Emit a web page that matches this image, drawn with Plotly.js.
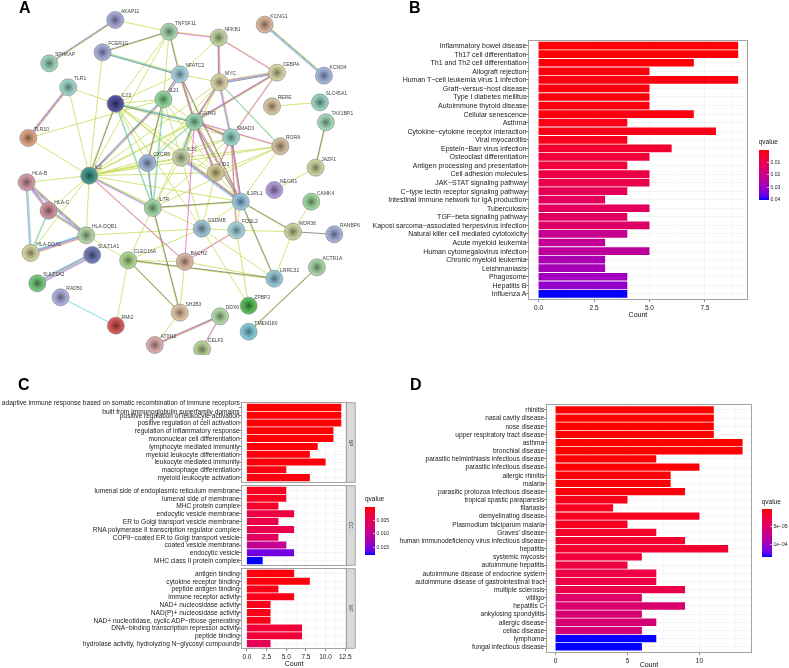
<!DOCTYPE html>
<html><head><meta charset="utf-8">
<script src="https://cdn.plot.ly/plotly-3.0.1.min.js"></script>
<style>html,body{margin:0;padding:0;background:#fff}#c{width:789px;height:668px;filter:blur(0.2px)}
#c .bars .point path{shape-rendering:geometricPrecision !important}</style>
</head><body><div id="c"></div>
<script>
// ---------- Panel B data ----------
const bCats=["Inflammatory bowel disease","Th17 cell differentiation","Th1 and Th2 cell differentiation","Allograft rejection","Human T−cell leukemia virus 1 infection","Graft−versus−host disease","Type I diabetes mellitus","Autoimmune thyroid disease","Cellular senescence","Asthma","Cytokine−cytokine receptor interaction","Viral myocarditis","Epstein−Barr virus infection","Osteoclast differentiation","Antigen processing and presentation","Cell adhesion molecules","JAK−STAT signaling pathway","C−type lectin receptor signaling pathway","Intestinal immune network for IgA production","Tuberculosis","TGF−beta signaling pathway","Kaposi sarcoma−associated herpesvirus infection","Natural killer cell mediated cytotoxicity","Acute myeloid leukemia","Human cytomegalovirus infection","Chronic myeloid leukemia","Leishmaniasis","Phagosome","Hepatitis B","Influenza A"];
const bCount=[9,9,7,5,9,5,5,5,7,4,8,4,6,5,4,5,5,4,3,5,4,5,4,3,5,3,3,4,4,4];
const bQ=[0.0002,0.0002,0.0005,0.0008,0.001,0.001,0.001,0.001,0.001,0.0015,0.0015,0.002,0.005,0.006,0.006,0.008,0.009,0.011,0.012,0.012,0.013,0.014,0.021,0.022,0.023,0.027,0.028,0.029,0.031,0.040];
// ---------- Panel C data ----------
const cBP=["adaptive immune response based on somatic recombination of immune receptors<br>built from immunoglobulin superfamily domains","positive regulation of leukocyte activation","positive regulation of cell activation","regulation of inflammatory response","mononuclear cell differentiation","lymphocyte mediated immunity","myeloid leukocyte differentiation","leukocyte mediated immunity","macrophage differentiation","myeloid leukocyte activation"];
const cBPCount=[12,12,12,11,11,9,8,10,5,8];
const cBPQ=[0.0001,0.0001,0.0001,0.0002,0.0002,0.0003,0.0004,0.0004,0.0006,0.0006];
const cCC=["lumenal side of endoplasmic reticulum membrane","lumenal side of membrane","MHC protein complex","endocytic vesicle membrane","ER to Golgi transport vesicle membrane","RNA polymerase II transcription regulator complex","COPII−coated ER to Golgi transport vesicle","coated vesicle membrane","endocytic vesicle","MHC class II protein complex"];
const cCCCount=[5,5,4,6,4,6,4,5,6,2];
const cCCQ=[0.0012,0.0012,0.0018,0.0035,0.0038,0.0042,0.0055,0.0095,0.0155,0.0177];
const cMF=["antigen binding","cytokine receptor binding","peptide antigen binding","immune receptor activity","NAD+ nucleosidase activity","NAD(P)+ nucleosidase activity","NAD+ nucleotidase, cyclic ADP−ribose generating","DNA−binding transcription repressor activity","peptide binding","hydrolase activity, hydrolyzing N−glycosyl compounds"];
const cMFCount=[6,8,4,6,3,3,3,7,7,3];
const cMFQ=[0.0004,0.0004,0.0008,0.0009,0.0009,0.0009,0.0009,0.0028,0.0028,0.0048];
// ---------- Panel D data ----------
const dCats=["rhinitis","nasal cavity disease","nose disease","upper respiratory tract disease","asthma","bronchial disease","parasitic helminthiasis infectious disease","parasitic infectious disease","allergic rhinitis","malaria","parasitic protozoa infectious disease","tropical spastic paraparesis","filariasis","demyelinating disease","Plasmodium falciparum malaria","Graves' disease","human immunodeficiency virus infectious disease","hepatitis","systemic mycosis","autoimmune hepatitis","autoimmune disease of endocrine system","autoimmune disease of gastrointestinal tract","multiple sclerosis","vitiligo","hepatitis C","ankylosing spondylitis","allergic disease","celiac disease","lymphoma","fungal infectious disease"];
const dCount=[11,11,11,11,13,13,7,10,8,8,9,5,4,10,5,7,9,12,6,5,7,7,9,6,9,6,7,6,7,6];
const dQ=[1e-6,1e-6,1e-6,1e-6,1e-6,1e-6,2e-6,2e-6,3e-6,3e-6,4e-6,9e-6,1e-5,1.1e-5,1.2e-5,1.4e-5,1.6e-5,1.8e-5,2.4e-5,2.5e-5,2.8e-5,2.9e-5,3e-5,5e-5,5.3e-5,5.5e-5,5.7e-5,6e-5,1.36e-4,1.367e-4];
// ---------- Panel A data ----------
const nodeNames=["AKAP11","SPHKAP","TNFSF11","NFKB1","KCNG1","KCND4","FCER1G","NFATC2","MYC","CEBPA","RERE","SLC45A1","TAX1BP1","TLR1","TLR10","IL23","IL21","GATA3","SMAD3","RORA","CXCR5","IL33","ID2","JAZF1","IL2","HLA-B","HLA-C","NEGR1","IL1RL1","IL7R","CAMK4","GSDMB","FOSL2","WDR36","RANBP6","HLA-DQB1","HLA-DQA1","SULT1A1","CLEC16A","BACH2","LRRC32","ACTR1A","SULT1A2","RAD50","RMI2","ZPBP2","SH2B3","DDX6","TMEM180","ATXN2","CELF2"];
const nodeX=[346,148,508,657,795,973,308,540,659,832,817,961,979,205,85,347,491,584,694,842,443,544,648,948,268,80,146,824,723,459,935,606,710,880,1004,259,92,277,385,555,824,952,112,182,348,747,540,661,747,465,607];
const nodeY=[60,190,95,113,74,227,157,223,247,218,319,307,367,262,414,311,298,365,412,439,489,473,518,503,527,547,632,570,605,624,605,686,691,695,703,706,759,765,781,785,836,802,850,892,977,917,938,949,995,1035,1048];
const nodeColors=["#a6a9de","#9edcc0","#a9dcb0","#c3dc9f","#e0b89a","#a5b7e6","#a8aee0","#a5d7e6","#e0d9a6","#dcdca3","#e3c9a3","#96d6c8","#a3e0bb","#9edcd0","#e3a67e","#4a4aa0","#8fdc9c","#97dcb0","#9adcd0","#dcc39e","#a0b8e0","#c8d8a8","#d8cf94","#cfdc9f","#3a9a8e","#d89aa8","#d68f9e","#b59ae0","#95cce8","#a0dca6","#9adc9c","#9ec4de","#a5dde0","#cfdca0","#a7b3e0","#b4dca5","#dcd9a0","#6c78b8","#b2dc90","#e5b8a3","#96cce0","#a5dca5","#6fce78","#b0b0e8","#e05050","#50c050","#e8c8a5","#b5e2a8","#80d0e0","#e8aeb0","#c0d89a"];
const edgeList=[["AKAP11","SPHKAP","ykb"],["AKAP11","TNFSF11","y"],["TNFSF11","NFKB1","ym"],["TNFSF11","FCER1G","yk"],["TNFSF11","NFATC2","yk"],["TNFSF11","IL21","y"],["TNFSF11","IL23","y"],["TNFSF11","IL2","y"],["NFKB1","NFATC2","y"],["NFKB1","MYC","ymk"],["NFKB1","CEBPA","ym"],["FCER1G","NFATC2","yck"],["FCER1G","IL2","y"],["KCNG1","KCND4","ykcb"],["NFATC2","MYC","y"],["NFATC2","IL21","mcyk"],["NFATC2","GATA3","mky"],["NFATC2","IL1RL1","ky"],["NFATC2","IL23","y"],["MYC","CEBPA","ymck"],["MYC","GATA3","ymk"],["MYC","SMAD3","ymc"],["MYC","RORA","yc"],["MYC","IL33","y"],["MYC","IL2","y"],["MYC","CXCR5","y"],["CEBPA","GATA3","ykm"],["CEBPA","SMAD3","my"],["RERE","SLC45A1","y"],["TAX1BP1","JAZF1","yk"],["JAZF1","NEGR1","y"],["TLR1","TLR10","ymkb"],["TLR1","IL23","y"],["TLR1","IL2","y"],["TLR10","IL2","y"],["TLR10","IL21","y"],["IL23","IL2","ky"],["IL23","IL21","y"],["IL23","GATA3","yck"],["IL23","SMAD3","y"],["IL23","IL33","y"],["IL23","ID2","y"],["IL23","IL1RL1","y"],["IL23","IL7R","cy"],["IL23","CXCR5","y"],["IL23","GSDMB","y"],["IL21","IL2","ymkc"],["IL21","CXCR5","yk"],["IL21","IL7R","cy"],["IL21","GATA3","y"],["IL21","IL33","y"],["IL21","ID2","y"],["GATA3","SMAD3","ykm"],["GATA3","RORA","my"],["GATA3","IL33","yck"],["GATA3","ID2","ykm"],["GATA3","IL2","yy"],["GATA3","IL1RL1","myk"],["GATA3","BACH2","m"],["GATA3","CXCR5","cy"],["GATA3","IL7R","y"],["SMAD3","IL2","y"],["SMAD3","IL33","y"],["SMAD3","ID2","my"],["SMAD3","IL1RL1","kmy"],["SMAD3","FOSL2","my"],["SMAD3","IL7R","y"],["RORA","IL2","y"],["RORA","IL33","y"],["RORA","ID2","y"],["RORA","IL1RL1","y"],["RORA","IL7R","y"],["CXCR5","IL7R","kc"],["CXCR5","IL2","y"],["IL33","IL1RL1","ymkcb"],["IL33","IL2","yy"],["IL33","IL7R","y"],["IL33","GSDMB","y"],["IL33","ID2","y"],["ID2","IL2","y"],["ID2","IL1RL1","y"],["ID2","GSDMB","y"],["IL2","IL7R","ycm"],["IL2","BACH2","my"],["IL2","IL1RL1","y"],["IL2","HLA-B","y"],["IL2","HLA-C","y"],["IL2","HLA-DQB1","y"],["IL2","HLA-DQA1","y"],["IL2","GSDMB","y"],["IL7R","IL1RL1","ky"],["IL7R","CLEC16A","y"],["IL7R","SH2B3","ky"],["IL1RL1","GSDMB","y"],["IL1RL1","FOSL2","y"],["IL1RL1","WDR36","ky"],["IL1RL1","LRRC32","ky"],["GSDMB","FOSL2","y"],["FOSL2","WDR36","y"],["GSDMB","LRRC32","y"],["GSDMB","ZPBP2","y"],["GSDMB","CLEC16A","y"],["FOSL2","BACH2","my"],["FOSL2","ZPBP2","y"],["HLA-DQB1","GSDMB","y"],["WDR36","CAMK4","y"],["WDR36","RANBP6","k"],["WDR36","LRRC32","y"],["ACTR1A","TMEM180","ky"],["HLA-B","HLA-C","ykmb"],["HLA-B","HLA-DQB1","ykmcb"],["HLA-B","HLA-DQA1","cyb"],["HLA-C","HLA-DQB1","kby"],["HLA-C","HLA-DQA1","cy"],["HLA-DQB1","HLA-DQA1","ymbkc"],["HLA-DQB1","CLEC16A","y"],["SULT1A1","SULT1A2","bmyckb"],["RAD50","RMI2","c"],["CLEC16A","RMI2","y"],["CLEC16A","BACH2","y"],["CLEC16A","LRRC32","ky"],["CLEC16A","SH2B3","ky"],["BACH2","SH2B3","y"],["BACH2","LRRC32","y"],["SH2B3","ATXN2","y"],["DDX6","ATXN2","ymk"],["DDX6","CELF2","ym"]];
const edgeColours={y:"#c6dc56",k:"#666658",m:"#e24ad6",c:"#48c8e6",b:"#9a9aea"};

// ---------- helpers ----------
const W=789,H=668;
const fx=p=>p/W, fy=p=>1-p/H;
const FONT='"Liberation Sans", Arial, sans-serif';
// red to blue through Lab space, the way the original legend blends
function lab(c){const l=c.map(v=>{v/=255;return v>0.04045?Math.pow((v+0.055)/1.055,2.4):v/12.92});
 const X=(0.4124*l[0]+0.3576*l[1]+0.1805*l[2])/0.95047,Y=0.2126*l[0]+0.7152*l[1]+0.0722*l[2],Z=(0.0193*l[0]+0.1192*l[1]+0.9505*l[2])/1.08883;
 const f=t=>t>0.008856?Math.cbrt(t):7.787*t+16/116;return[116*f(Y)-16,500*(f(X)-f(Y)),200*(f(Y)-f(Z))];}
function rgb(L){const y=(L[0]+16)/116,x=L[1]/500+y,z=y-L[2]/200;const g=t=>t*t*t>0.008856?t*t*t:(t-16/116)/7.787;
 const X=g(x)*0.95047,Y=g(y),Z=g(z)*1.08883;
 const r=[3.2406*X-1.5372*Y-0.4986*Z,-0.9689*X+1.8758*Y+0.0415*Z,0.0557*X-0.2040*Y+1.0570*Z];
 return 'rgb('+r.map(v=>{v=Math.max(0,Math.min(1,v));v=v>0.0031308?1.055*Math.pow(v,1/2.4)-0.055:12.92*v;return Math.round(v*255)}).join(',')+')';}
const L0=lab([0,0,255]),L1=lab([255,0,0]);
const scale=[];for(let i=0;i<=16;i++){const t=i/16;scale.push([t,rgb(L0.map((v,k)=>v+(L1[k]-v)*t))]);}

// the legend runs from small q at the top to large q at the bottom, so the colour axis is negated
function barTrace(cats,vals,q,ax,qLow,qHigh,cb){
 const m={color:q.map(v=>-v),colorscale:scale,cmin:-qHigh,cmax:-qLow,showscale:!!cb,line:{width:0}};
 if(cb)m.colorbar=cb;
 return {type:'bar',orientation:'h',y:cats,x:vals,width:0.9,marker:m,xaxis:'x'+ax,yaxis:'y'+ax,hoverinfo:'x+y'};
}
const TITLE_ROOM=12.5;
function cbar(left,top,len,vals,text){return {x:fx(left),xanchor:'left',xpad:0,y:fy(top-TITLE_ROOM),yanchor:'top',ypad:0,lenmode:'pixels',len:len+TITLE_ROOM,thicknessmode:'pixels',thickness:9.5,outlinewidth:0,ticks:'inside',ticklen:2,tickwidth:0.6,tickcolor:'#fff',tickmode:'array',tickvals:vals.map(v=>-v),ticktext:text,tickfont:{family:FONT,size:5,color:'#222'},title:{text:'qvalue',side:'top',font:{family:FONT,size:6.5,color:'#111'}}};}

// ---------- traces ----------
const traces=[];
const idx={};nodeNames.forEach((n,i)=>idx[n]=i);
const byColour={};
edgeList.forEach(e=>{const a=idx[e[0]],b=idx[e[1]],dx=nodeX[b]-nodeX[a],dy=nodeY[b]-nodeY[a],d=Math.hypot(dx,dy),nx=-dy/d,ny=dx/d,s=e[2];
 [...s].forEach((c,i)=>{const o=(i-(s.length-1)/2)*2.3;(byColour[c]=byColour[c]||{x:[],y:[]});
  byColour[c].x.push(nodeX[a]+nx*o,nodeX[b]+nx*o,null);byColour[c].y.push(nodeY[a]+ny*o,nodeY[b]+ny*o,null);});});
['y','k','c','m','b'].forEach(c=>traces.push({type:'scatter',mode:'lines',x:byColour[c].x,y:byColour[c].y,line:{color:edgeColours[c],width:c==='y'?0.8:0.7},xaxis:'x6',yaxis:'y6',hoverinfo:'skip'}));
const mix=(h,f,t)=>{const n=parseInt(h.slice(1),16);return 'rgb('+[n>>16,(n>>8)&255,n&255].map(v=>Math.round(v+(t-v)*f)).join(',')+')';};
traces.push({type:'scatter',mode:'markers',x:nodeX,y:nodeY,
 marker:{size:17,color:nodeColors.map(c=>mix(c,0.1,255)),gradient:{type:'radial',color:nodeColors.map(c=>mix(c,0.38,0))},line:{width:0.6,color:'#7a7a7a'}},xaxis:'x6',yaxis:'y6',hoverinfo:'skip'});
traces.push({type:'scatter',mode:'markers',x:nodeX,y:nodeY,marker:{size:5.5,symbol:'asterisk-open',opacity:0.7,color:nodeColors.map(c=>mix(c,0.5,0)),line:{width:0.6,color:nodeColors.map(c=>mix(c,0.5,0))}},xaxis:'x6',yaxis:'y6',hoverinfo:'skip'});
traces.push({type:'scatter',mode:'markers+text',x:nodeX,y:nodeY,text:nodeNames,textposition:'top right',textfont:{family:FONT,size:5,color:'#444'},cliponaxis:true,marker:{size:7.5,opacity:0},xaxis:'x6',yaxis:'y6',hoverinfo:'text'});

traces.push(barTrace(bCats,bCount,bQ,'',-0.0003,0.0401,cbar(758.7,149,50.3,[0.01,0.02,0.03,0.04],['0.01','0.02','0.03','0.04'])));
traces.push(barTrace(cBP,cBPCount,cBPQ,'2',0,0.0177,cbar(365,506,48,[0.005,0.01,0.015],['0.005','0.010','0.015'])));
traces.push(barTrace(cCC,cCCCount,cCCQ,'3',0,0.0177));
traces.push(barTrace(cMF,cMFCount,cMFQ,'4',0,0.0177));
traces.push(barTrace(dCats,dCount,dQ,'5',1e-6,1.367e-4,cbar(761.7,508.7,48,[5e-5,1e-4],['5e−05','1e−04'])));

// ---------- axes ----------
const frame={showline:true,mirror:true,linecolor:'#a3a3a3',linewidth:1,zeroline:false,showgrid:true,gridcolor:'#ececec',gridwidth:0.6};
function xAx(l,r,t,b,range,tv,tt,showLab,anchor,titleOn){
 const a=Object.assign({},frame,{domain:[fx(l),fx(r)],range:range,anchor:anchor,tickmode:'array',tickvals:tv,ticktext:tt,ticks:showLab?'outside':'',ticklen:2,tickwidth:0.6,tickcolor:'#333',showticklabels:showLab,tickfont:{family:FONT,size:6.5,color:'#222'},minor:{showgrid:true,gridcolor:'#f4f4f4',gridwidth:0.5,tickmode:'array',tickvals:tv.slice(0,-1).map((v,i)=>(v+tv[i+1])/2).concat([tv[tv.length-1]+(tv[1]-tv[0])/2]),ticks:''}});
 if(titleOn)a.title={text:'Count',font:{family:FONT,size:7,color:'#111'},standoff:2};
 return a;}
function yAx(t,b,cats,anchor,size){
 return Object.assign({},frame,{domain:[fy(b),fy(t)],type:'category',categoryorder:'array',categoryarray:cats,range:[cats.length-0.4,-0.6],anchor:anchor,tickmode:'array',tickvals:cats,ticktext:cats,ticks:'outside',ticklen:2,tickwidth:0.6,tickcolor:'#333',ticklabelstandoff:-2,tickfont:{family:FONT,size:size,color:'#222'}});}
const cTicks=[0,2.5,5,7.5,10,12.5],cText=['0.0','2.5','5.0','7.5','10.0','12.5'];
const cRange=[-0.63,12.63];
const layout={width:W,height:H,margin:{l:0,r:0,t:0,b:0,pad:0},paper_bgcolor:'#fff',plot_bgcolor:'#fff',showlegend:false,bargap:0,
 xaxis:xAx(529.5,748,40.5,299,[-0.44,9.4],[0,2.5,5,7.5],['0.0','2.5','5.0','7.5'],true,'y',true),
 yaxis:yAx(40.5,299,bCats,'x',7),
 xaxis2:xAx(242.3,346.7,402.7,482.3,cRange,cTicks,cText,false,'y2',false),
 yaxis2:yAx(402.7,482.3,cBP,'x2',6.6),
 xaxis3:xAx(242.3,346.7,485.7,565.3,cRange,cTicks,cText,false,'y3',false),
 yaxis3:yAx(485.7,565.3,cCC,'x3',6.6),
 xaxis4:xAx(242.3,346.7,568.7,648.3,cRange,cTicks,cText,true,'y4',true),
 yaxis4:yAx(568.7,648.3,cMF,'x4',6.6),
 xaxis5:xAx(547.3,752.3,405,651.7,[-0.625,13.61],[0,5,10],['0','5','10'],true,'y5',true),
 yaxis5:yAx(405,651.7,dCats,'x5',6.6),
 xaxis6:{domain:[0,390/W],range:[0,1170],visible:false,anchor:'y6',fixedrange:true},
 yaxis6:{domain:[fy(355),1],range:[1065,0],visible:false,anchor:'x6',fixedrange:true},
 shapes:[[402.7,482.3],[485.7,565.3],[568.7,648.3]].map(s=>({type:'rect',xref:'paper',yref:'paper',x0:fx(346.7),x1:fx(355.7),y0:fy(s[0]),y1:fy(s[1]),fillcolor:'#d9d9d9',line:{color:'#a3a3a3',width:1},layer:'below'})),
 annotations:[
  ...[['BP',442.5],['CC',525.5],['MF',608.5]].map(s=>({text:s[0],xref:'paper',yref:'paper',x:fx(351.2),y:fy(s[1]),showarrow:false,textangle:90,font:{family:FONT,size:4.8,color:'#333'},xanchor:'center',yanchor:'middle'})),
  ...[['A',25,8],['B',415.5,8],['C',24.5,384],['D',417,384]].map(s=>({text:'<b>'+s[0]+'</b>',xref:'paper',yref:'paper',x:fx(s[1]),y:fy(s[2]),showarrow:false,font:{family:FONT,size:16,color:'#000'},xanchor:'center',yanchor:'middle'}))
 ]};
Plotly.newPlot('c',traces,layout,{displayModeBar:false,staticPlot:true});
</script></body></html>
